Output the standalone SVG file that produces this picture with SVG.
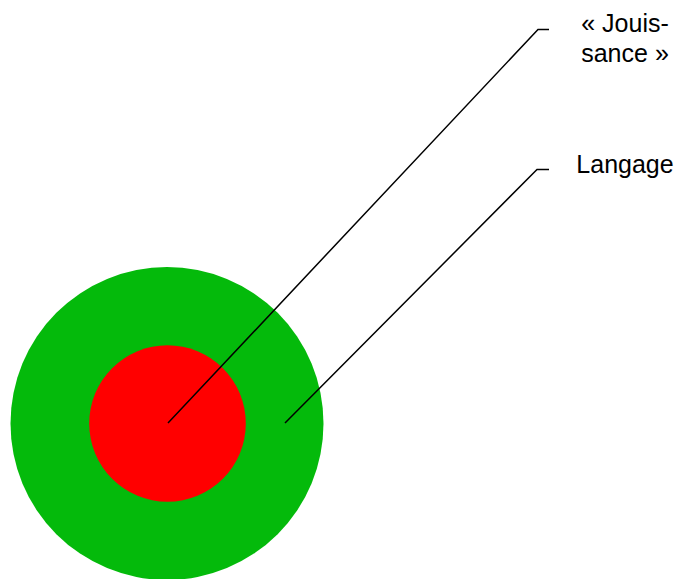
<svg xmlns="http://www.w3.org/2000/svg" width="680" height="579" viewBox="0 0 680 579">
<style>
.lbl{font-family:"Liberation Sans",Arial,sans-serif;font-size:25px;fill:#000;text-anchor:middle}
.conn{fill:none;stroke:#000;stroke-width:1.5}
</style>
<rect width="680" height="579" fill="#fff"/>
<g id="langage-circle"><circle cx="167" cy="423.5" r="156.5" fill="#04BA0B"/></g>
<g id="jouissance-circle"><circle cx="167.5" cy="423.5" r="78.3" fill="#FF0000"/></g>
<g id="connectors">
<polyline class="conn" points="168,423 538,29.5 549,29.5"/>
<polyline class="conn" points="285,423 537,169.5 549,169.5"/>
</g>
<g id="label-jouissance">
<text class="lbl" x="625" y="32">« Jouis-</text>
<text class="lbl" x="625" y="62">sance »</text>
</g>
<g id="label-langage"><text class="lbl" x="625" y="173">Langage</text></g>
</svg>
